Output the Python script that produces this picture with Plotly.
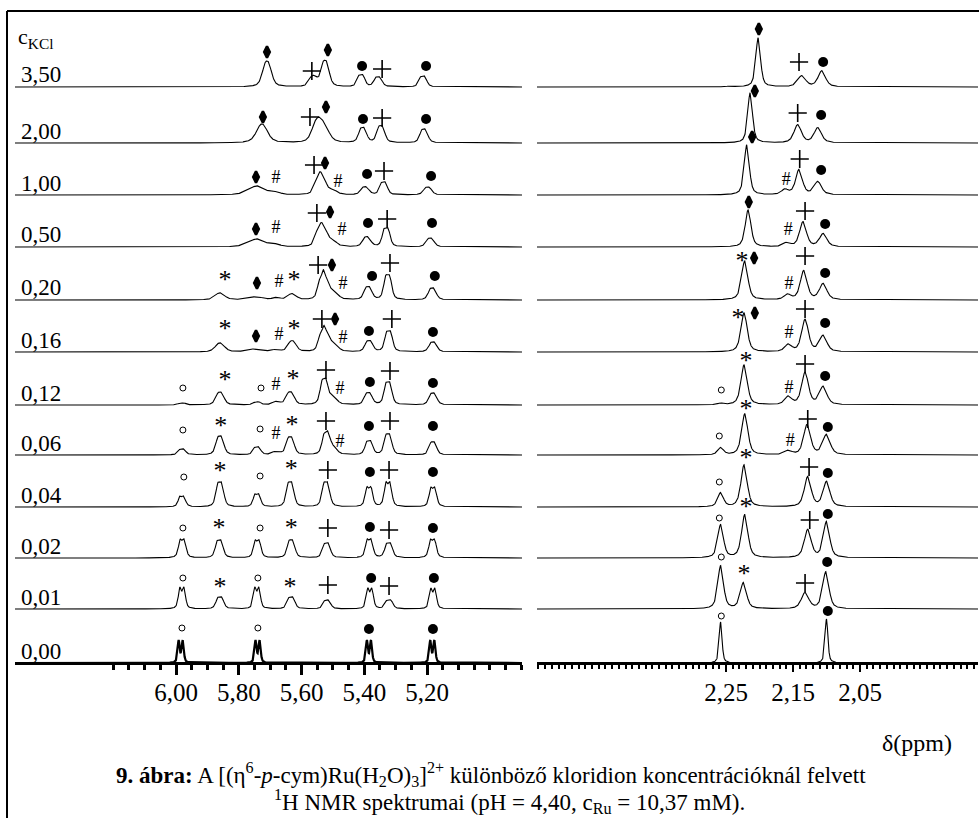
import numpy as np
import plotly.graph_objects as go

# ---------------- data ----------------
ROWS = ["3,50", "2,00", "1,00", "0,50", "0,20", "0,16", "0,12", "0,06", "0,04", "0,02", "0,01", "0,00"]

# aromatic region (doublets): (ppm, height, half width)
AROM_PEAKS = {
    "3,50": [(5.710, 26, 0.012), (5.563, 10, 0.010), (5.525, 26, 0.010), (5.410, 12, 0.008), (5.356, 10, 0.009), (5.213, 11, 0.008)],
    "2,00": [(5.726, 19, 0.018), (5.552, 19, 0.014), (5.528, 15, 0.016), (5.405, 15, 0.009), (5.347, 17, 0.009), (5.210, 14, 0.009)],
    "1,00": [(5.742, 9, 0.030), (5.680, 2, 0.010), (5.548, 13, 0.009), (5.532, 13, 0.010), (5.500, 4, 0.012), (5.398, 8, 0.010), (5.338, 13, 0.008), (5.198, 8, 0.010)],
    "0,50": [(5.742, 8, 0.030), (5.680, 2, 0.010), (5.545, 14, 0.009), (5.528, 14, 0.010), (5.500, 5, 0.012), (5.392, 10, 0.010), (5.330, 19, 0.008), (5.190, 9, 0.010)],
    "0,20": [(5.860, 7, 0.015), (5.745, 3, 0.025), (5.680, 2, 0.010), (5.630, 6, 0.012), (5.537, 17, 0.008), (5.522, 15, 0.009), (5.495, 6, 0.012), (5.388, 13, 0.009), (5.325, 25, 0.008), (5.183, 12, 0.009)],
    "0,16": [(5.860, 9, 0.014), (5.745, 3, 0.025), (5.680, 2, 0.010), (5.630, 11, 0.011), (5.535, 15, 0.008), (5.520, 13, 0.009), (5.495, 6, 0.012), (5.385, 11, 0.009), (5.322, 21, 0.008), (5.181, 10, 0.009)],
    "0,12": [(5.981, 2, 0.008), (5.860, 13, 0.010), (5.742, 3, 0.008), (5.680, 3, 0.010), (5.636, 13, 0.010), (5.528, 25, 0.008), (5.500, 7, 0.012), (5.387, 12, 0.009), (5.324, 23, 0.008), (5.181, 12, 0.009)],
    "0,06": [(5.981, 6, 0.008), (5.860, 19, 0.009), (5.742, 8, 0.008), (5.680, 3, 0.010), (5.636, 18, 0.009), (5.522, 21, 0.008), (5.500, 7, 0.011), (5.385, 14, 0.008), (5.324, 21, 0.008), (5.181, 13, 0.008)],
    "0,04": [(5.981, 11, 0.007), (5.860, 25, 0.008), (5.742, 13, 0.007), (5.636, 25, 0.008), (5.522, 25, 0.008), (5.385, 20, 0.007), (5.324, 25, 0.007), (5.181, 20, 0.007)],
    "0,02": [(5.980, 19, 0.007), (5.862, 18, 0.008), (5.741, 18, 0.007), (5.633, 18, 0.008), (5.520, 15, 0.008), (5.384, 19, 0.007), (5.322, 15, 0.008), (5.182, 19, 0.007)],
    "0,01": [(5.981, 22, 0.006), (5.860, 12, 0.008), (5.742, 22, 0.006), (5.633, 12, 0.008), (5.519, 9, 0.008), (5.382, 21, 0.006), (5.321, 9, 0.008), (5.181, 21, 0.006)],
    "0,00": [(5.985, 23, 0.004), (5.740, 23, 0.004), (5.385, 23, 0.004), (5.183, 23, 0.004)],
}
DOUBLET_SPLIT = 0.013

# methyl region (singlets): (ppm, height, half width)
METHYL_PEAKS = {
    "3,50": [(2.244, 1, 0.004), (2.202, 49, 0.0042), (2.137, 11, 0.007), (2.107, 16, 0.0065)],
    "2,00": [(2.214, 50, 0.0042), (2.143, 18, 0.0065), (2.113, 15, 0.0065)],
    "1,00": [(2.219, 50, 0.0045), (2.162, 5, 0.006), (2.141, 25, 0.0060), (2.113, 13, 0.0065)],
    "0,50": [(2.217, 37, 0.0050), (2.159, 4, 0.006), (2.135, 25, 0.0060), (2.105, 13, 0.0065)],
    "0,20": [(2.222, 39, 0.0055), (2.158, 5, 0.006), (2.134, 29, 0.0060), (2.105, 16, 0.0065)],
    "0,16": [(2.223, 39, 0.0055), (2.157, 7, 0.006), (2.132, 32, 0.0060), (2.105, 16, 0.0065)],
    "0,12": [(2.258, 1.5, 0.005), (2.223, 40, 0.0055), (2.157, 8, 0.006), (2.132, 32, 0.0060), (2.105, 18, 0.0065)],
    "0,06": [(2.258, 7, 0.005), (2.222, 41, 0.0055), (2.157, 4, 0.006), (2.129, 30, 0.0060), (2.100, 20, 0.0065)],
    "0,04": [(2.258, 14, 0.005), (2.223, 42, 0.0055), (2.128, 30, 0.0060), (2.100, 25, 0.0060)],
    "0,02": [(2.258, 33, 0.005), (2.222, 43, 0.0055), (2.128, 28, 0.0060), (2.100, 36, 0.0055)],
    "0,01": [(2.258, 43, 0.005), (2.224, 26, 0.0055), (2.132, 16, 0.0065), (2.101, 37, 0.0055)],
    "0,00": [(2.258, 41, 0.0025), (2.100, 44, 0.0025)],
}

# assignment symbols: (row, ppm, symbol, height above baseline)
AROM_MARKS = [
    ("3,50", 5.710, "dia", 35), ("3,50", 5.567, "+", 16), ("3,50", 5.516, "dia", 37), ("3,50", 5.407, "dot", 21), ("3,50", 5.343, "+", 18), ("3,50", 5.203, "dot", 21),
    ("2,00", 5.723, "dia", 26), ("2,00", 5.573, "+", 26), ("2,00", 5.522, "dia", 36), ("2,00", 5.404, "dot", 24), ("2,00", 5.343, "+", 25), ("2,00", 5.203, "dot", 24),
    ("1,00", 5.745, "dia", 18), ("1,00", 5.681, "#", 17), ("1,00", 5.560, "+", 30), ("1,00", 5.525, "dia", 32), ("1,00", 5.484, "#", 13), ("1,00", 5.391, "dot", 21), ("1,00", 5.337, "+", 24), ("1,00", 5.187, "dot", 19),
    ("0,50", 5.745, "dia", 18), ("0,50", 5.681, "#", 19), ("0,50", 5.551, "+", 34), ("0,50", 5.509, "dia", 35), ("0,50", 5.471, "#", 17), ("0,50", 5.388, "dot", 24), ("0,50", 5.327, "+", 28), ("0,50", 5.184, "dot", 24),
    ("0,20", 5.844, "*", 25), ("0,20", 5.742, "dia", 17), ("0,20", 5.672, "#", 18), ("0,20", 5.624, "*", 25), ("0,20", 5.547, "+", 35), ("0,20", 5.503, "dia", 35), ("0,20", 5.468, "#", 16), ("0,20", 5.375, "dot", 24), ("0,20", 5.318, "+", 37), ("0,20", 5.175, "dot", 24),
    ("0,16", 5.844, "*", 28), ("0,16", 5.745, "dia", 16), ("0,16", 5.672, "#", 17), ("0,16", 5.624, "*", 28), ("0,16", 5.535, "+", 33), ("0,16", 5.493, "dia", 33), ("0,16", 5.468, "#", 14), ("0,16", 5.385, "dot", 21), ("0,16", 5.312, "+", 33), ("0,16", 5.181, "dot", 20),
    ("0,12", 5.978, "o", 17), ("0,12", 5.844, "*", 30), ("0,12", 5.729, "o", 17), ("0,12", 5.681, "#", 20), ("0,12", 5.627, "*", 31), ("0,12", 5.522, "+", 35), ("0,12", 5.477, "#", 16), ("0,12", 5.382, "dot", 23), ("0,12", 5.318, "+", 34), ("0,12", 5.181, "dot", 22),
    ("0,06", 5.978, "o", 25), ("0,06", 5.857, "*", 34), ("0,06", 5.732, "o", 26), ("0,06", 5.681, "#", 21), ("0,06", 5.630, "*", 35), ("0,06", 5.522, "+", 34), ("0,06", 5.477, "#", 13), ("0,06", 5.385, "dot", 29), ("0,06", 5.318, "+", 34), ("0,06", 5.181, "dot", 29),
    ("0,04", 5.975, "o", 30), ("0,04", 5.860, "*", 41), ("0,04", 5.732, "o", 31), ("0,04", 5.633, "*", 43), ("0,04", 5.516, "+", 37), ("0,04", 5.382, "dot", 35), ("0,04", 5.321, "+", 37), ("0,04", 5.181, "dot", 35),
    ("0,02", 5.978, "o", 30), ("0,02", 5.863, "*", 35), ("0,02", 5.732, "o", 30), ("0,02", 5.633, "*", 35), ("0,02", 5.516, "+", 30), ("0,02", 5.382, "dot", 31), ("0,02", 5.321, "+", 28), ("0,02", 5.181, "dot", 30),
    ("0,01", 5.978, "o", 31), ("0,01", 5.860, "*", 27), ("0,01", 5.739, "o", 31), ("0,01", 5.637, "*", 27), ("0,01", 5.516, "+", 24), ("0,01", 5.378, "dot", 31), ("0,01", 5.321, "+", 23), ("0,01", 5.178, "dot", 31),
    ("0,00", 5.981, "o", 35), ("0,00", 5.739, "o", 35), ("0,00", 5.385, "dot", 34), ("0,00", 5.181, "dot", 34),
]
METHYL_MARKS = [
    ("3,50", 2.201, "dia", 58), ("3,50", 2.141, "+", 25), ("3,50", 2.105, "dot", 25),
    ("2,00", 2.207, "dia", 52), ("2,00", 2.143, "+", 30), ("2,00", 2.108, "dot", 28),
    ("1,00", 2.211, "dia", 58), ("1,00", 2.140, "+", 36), ("1,00", 2.160, "#", 15), ("1,00", 2.108, "dot", 25),
    ("0,50", 2.216, "dia", 45), ("0,50", 2.157, "#", 17), ("0,50", 2.132, "+", 36), ("0,50", 2.102, "dot", 23),
    ("0,20", 2.226, "*", 44), ("0,20", 2.208, "dia", 42), ("0,20", 2.156, "#", 16), ("0,20", 2.132, "+", 44), ("0,20", 2.102, "dot", 27),
    ("0,16", 2.232, "*", 39), ("0,16", 2.207, "dia", 39), ("0,16", 2.156, "#", 19), ("0,16", 2.132, "+", 43), ("0,16", 2.102, "dot", 29),
    ("0,12", 2.257, "o", 15), ("0,12", 2.220, "*", 49), ("0,12", 2.156, "#", 17), ("0,12", 2.132, "+", 41), ("0,12", 2.102, "dot", 29),
    ("0,06", 2.260, "o", 19), ("0,06", 2.220, "*", 51), ("0,06", 2.154, "#", 14), ("0,06", 2.128, "+", 36), ("0,06", 2.098, "dot", 28),
    ("0,04", 2.260, "o", 25), ("0,04", 2.220, "*", 54), ("0,04", 2.126, "+", 40), ("0,04", 2.098, "dot", 34),
    ("0,02", 2.260, "o", 40), ("0,02", 2.220, "*", 56), ("0,02", 2.125, "+", 38), ("0,02", 2.098, "dot", 44),
    ("0,01", 2.257, "o", 52), ("0,01", 2.223, "*", 40), ("0,01", 2.132, "+", 26), ("0,01", 2.099, "dot", 47),
    ("0,00", 2.257, "o", 47), ("0,00", 2.098, "dot", 52),
]

LEFT_MAJOR = [6.00, 5.80, 5.60, 5.40, 5.20]
LEFT_LABELS = ["6,00", "5,80", "5,60", "5,40", "5,20"]
RIGHT_LABELED = {2.25: "2,25", 2.15: "2,15", 2.05: "2,05"}

# ---------------- layout constants (pixels) ----------------
W, H = 979, 818
ROW_Y = [87, 143, 195, 247, 300, 352, 405, 455, 507, 558, 609, 663]
AXIS_Y = 663
LEFT_PX = (15, 522)
RIGHT_PX = (537, 978)
LEFT_RANGE = [6.00 + (176 - 15) / 313.75, 6.00 - (522 - 176) / 313.75]
RIGHT_RANGE = [2.25 + (726 - 537) / 670.0, 2.25 - (978 - 726) / 670.0]
FONT = "Liberation Serif"


def shape(x, c, w):
    u = (x - c) / w
    return 0.55 / (1 + u * u) + 0.45 * np.exp(-np.log(2) * u * u)


def peak(x, c, h, w, split):
    if split > 0:
        prof = lambda t: shape(t, c - split / 2, w) + shape(t, c + split / 2, w)
    else:
        prof = lambda t: shape(t, c, w)
    fine = np.linspace(c - 0.05, c + 0.05, 2001)
    return h * prof(x) / prof(fine).max()


def yv(px):
    return H - px


fig = go.Figure()

xl = np.linspace(min(LEFT_RANGE), max(LEFT_RANGE), 3000)
xr = np.linspace(min(RIGHT_RANGE), max(RIGHT_RANGE), 3000)

for i, r in enumerate(ROWS):
    base = yv(ROW_Y[i])
    yl = np.full_like(xl, base, dtype=float)
    for c, h, w in AROM_PEAKS[r]:
        yl += peak(xl, c, h, w, DOUBLET_SPLIT)
    fig.add_trace(go.Scatter(x=xl, y=yl, mode="lines", xaxis="x", yaxis="y",
                             line=dict(color="black", width=2.2 if r == "0,00" else 1.1),
                             hoverinfo="skip", showlegend=False))
    yr = np.full_like(xr, base, dtype=float)
    for c, h, w in METHYL_PEAKS[r]:
        yr += peak(xr, c, h, w, 0)
    fig.add_trace(go.Scatter(x=xr, y=yr, mode="lines", xaxis="x2", yaxis="y",
                             line=dict(color="black", width=1.1),
                             hoverinfo="skip", showlegend=False))


def add_marks(marks, xa):
    groups = {}
    for r, p, s, h in marks:
        groups.setdefault(s, ([], []))
        groups[s][0].append(p)
        groups[s][1].append(yv(ROW_Y[ROWS.index(r)] - h))
    for s, (xs, ys) in groups.items():
        if s == "o":
            fig.add_trace(go.Scatter(x=xs, y=ys, mode="markers", xaxis=xa, yaxis="y",
                                     marker=dict(symbol="circle-open", size=6, color="black", line=dict(width=1, color="black")),
                                     hoverinfo="skip", showlegend=False))
        elif s == "dot":
            fig.add_trace(go.Scatter(x=xs, y=ys, mode="markers", xaxis=xa, yaxis="y",
                                     marker=dict(symbol="circle", size=10, color="black"),
                                     hoverinfo="skip", showlegend=False))
        elif s == "dia":
            fig.add_trace(go.Scatter(x=xs, y=ys, mode="markers", xaxis=xa, yaxis="y",
                                     marker=dict(symbol="diamond-tall", size=8, color="black",
                                                 line=dict(width=2.5, color="black")),
                                     hoverinfo="skip", showlegend=False))
        elif s == "+":
            fig.add_trace(go.Scatter(x=xs, y=ys, mode="markers", xaxis=xa, yaxis="y",
                                     marker=dict(symbol="cross-thin-open", size=13, color="black",
                                                 line=dict(width=1.6, color="black")),
                                     hoverinfo="skip", showlegend=False))
        elif s == "*":
            fig.add_trace(go.Scatter(x=xs, y=[v - 6 for v in ys], mode="text", xaxis=xa, yaxis="y",
                                     text=["*"] * len(xs), textposition="middle center",
                                     textfont=dict(family=FONT, size=26, color="black"),
                                     hoverinfo="skip", showlegend=False))
        elif s == "#":
            fig.add_trace(go.Scatter(x=xs, y=ys, mode="text", xaxis=xa, yaxis="y",
                                     text=["#"] * len(xs), textposition="middle center",
                                     textfont=dict(family=FONT, size=18, color="black"),
                                     hoverinfo="skip", showlegend=False))


add_marks(AROM_MARKS, "x")
add_marks(METHYL_MARKS, "x2")

left_minor = [round(6.20 - 0.05 * k, 2) for k in range(27)]
right_major = [round(2.50 - 0.05 * k, 2) for k in range(13)]
right_minor = [round(2.53 - 0.01 * k, 2) for k in range(66)]

axis_pos = (H - AXIS_Y) / H
fig.update_layout(
    width=W, height=H, margin=dict(l=0, r=0, t=0, b=0),
    paper_bgcolor="white", plot_bgcolor="white",
    font=dict(family=FONT, color="black"),
    xaxis=dict(domain=[LEFT_PX[0] / W, LEFT_PX[1] / W], range=LEFT_RANGE, anchor="free", position=axis_pos,
               showgrid=False, zeroline=False, showline=True, linewidth=3, linecolor="black",
               ticks="outside", ticklen=10, tickwidth=3, tickcolor="black",
               tickmode="array", tickvals=LEFT_MAJOR, ticktext=LEFT_LABELS,
               tickfont=dict(family=FONT, size=25, color="black"), ticklabelstandoff=-4,
               minor=dict(tickmode="array", tickvals=left_minor, ticks="outside", ticklen=5, tickwidth=3,
                          tickcolor="black", showgrid=False)),
    xaxis2=dict(domain=[RIGHT_PX[0] / W, RIGHT_PX[1] / W], range=RIGHT_RANGE, anchor="free", position=axis_pos,
                showgrid=False, zeroline=False, showline=True, linewidth=3, linecolor="black",
                ticks="outside", ticklen=7, tickwidth=2, tickcolor="black",
                tickmode="array", tickvals=right_major,
                ticktext=[RIGHT_LABELED.get(v, "") for v in right_major],
                tickfont=dict(family=FONT, size=25, color="black"), ticklabelstandoff=-1,
                minor=dict(tickmode="array", tickvals=right_minor, ticks="outside", ticklen=4, tickwidth=1.5,
                           tickcolor="black", showgrid=False)),
    yaxis=dict(domain=[0, 1], range=[0, H], visible=False, fixedrange=True),
    showlegend=False,
)

ann = []
for i, r in enumerate(ROWS):
    ann.append(dict(x=19 / W, y=yv(ROW_Y[i] - 12) / H, xref="paper", yref="paper", text=r,
                    showarrow=False, xanchor="left", yanchor="middle",
                    font=dict(family=FONT, size=23, color="black")))
ann.append(dict(x=16 / W, y=yv(38) / H, xref="paper", yref="paper", text="c<sub>KCl</sub>",
                showarrow=False, xanchor="left", yanchor="middle", font=dict(family=FONT, size=22, color="black")))
ann.append(dict(x=917 / W, y=yv(743) / H, xref="paper", yref="paper", text="δ(ppm)",
                showarrow=False, xanchor="center", yanchor="middle", font=dict(family=FONT, size=24, color="black")))
ann.append(dict(x=491 / W, y=yv(774) / H, xref="paper", yref="paper",
                text="<b>9. ábra:</b> A [(η<sup>6</sup>-<i>p</i>-cym)Ru(H<sub>2</sub>O)<sub>3</sub>]<sup>2+</sup> különböző kloridion koncentrációknál felvett",
                showarrow=False, xanchor="center", yanchor="middle", font=dict(family=FONT, size=23, color="black")))
ann.append(dict(x=510 / W, y=yv(801) / H, xref="paper", yref="paper",
                text="<sup>1</sup>H NMR spektrumai (pH = 4,40, c<sub>Ru</sub> = 10,37 mM).",
                showarrow=False, xanchor="center", yanchor="middle", font=dict(family=FONT, size=23, color="black")))
fig.update_layout(annotations=ann)

fig.update_layout(shapes=[
    dict(type="line", xref="paper", yref="paper", x0=7 / W, x1=7 / W, y0=0, y1=yv(11) / H,
         line=dict(color="black", width=2)),
    dict(type="line", xref="paper", yref="paper", x0=7 / W, x1=1, y0=yv(11) / H, y1=yv(11) / H,
         line=dict(color="black", width=2)),
])

fig.write_html("out.html")
